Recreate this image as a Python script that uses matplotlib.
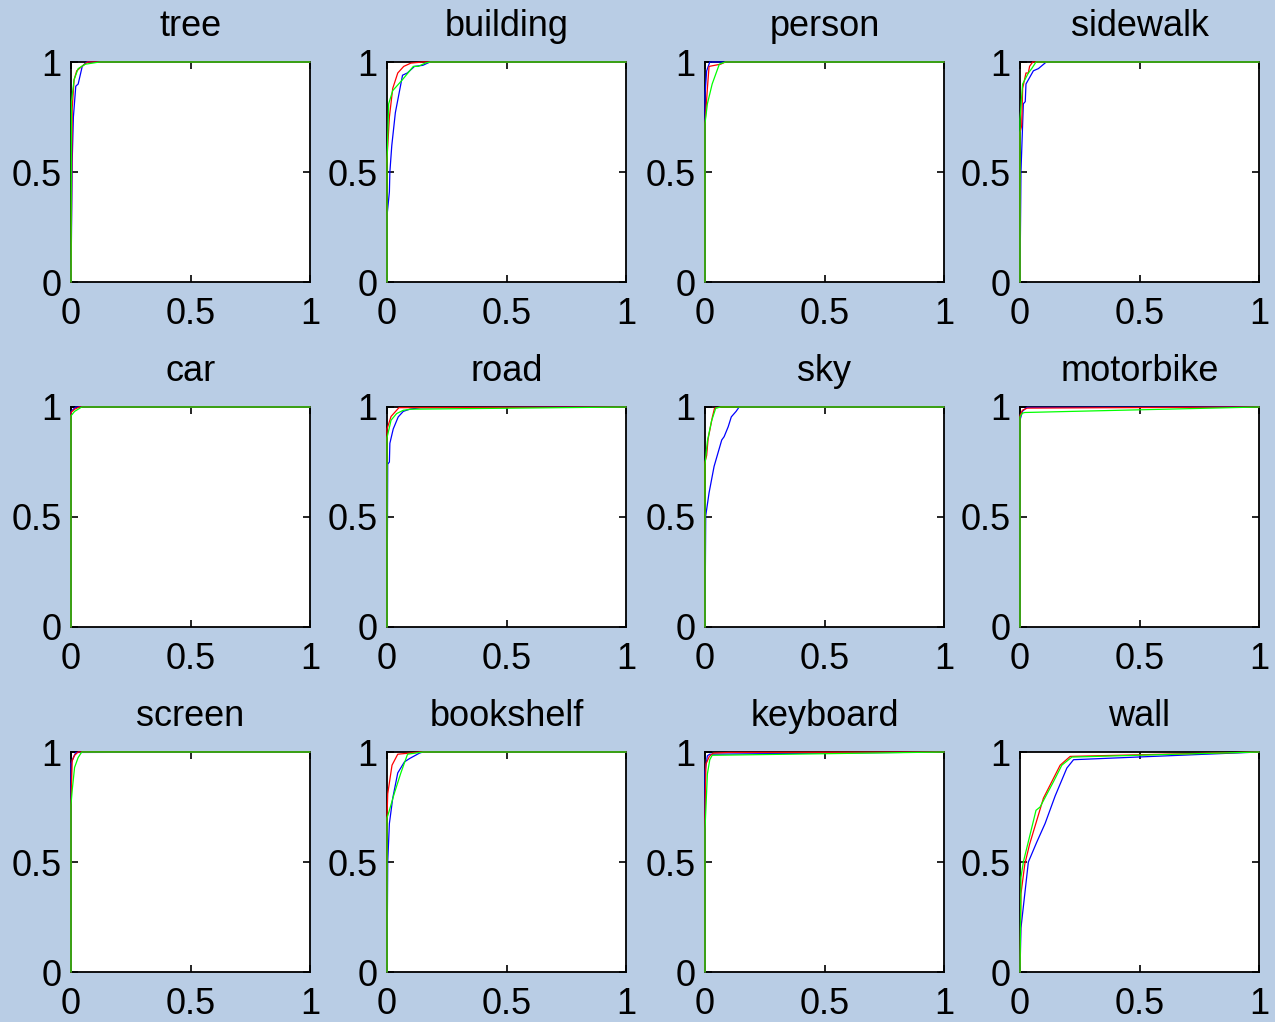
import matplotlib
matplotlib.use("Agg")
import matplotlib.pyplot as plt

plt.rcParams['font.family'] = ['Liberation Sans', 'DejaVu Sans']

# ROC curves per class: (false positive rate, true positive rate) for three methods
titles = ["tree", "building", "person", "sidewalk",
          "car", "road", "sky", "motorbike",
          "screen", "bookshelf", "keyboard", "wall"]

tree_blue = ([0, 0.005, 0.01, 0.02, 0.03, 0.047, 0.065, 1], [0, 0.55, 0.75, 0.89, 0.90, 0.98, 1.0, 1.0])
tree_red = ([0, 0.005, 0.013, 0.024, 0.045, 0.07, 1], [0, 0.79, 0.92, 0.96, 0.98, 1.0, 1.0])
tree_green = ([0, 0.002, 0.013, 0.03, 0.06, 0.12, 1], [0, 0.82, 0.92, 0.97, 0.99, 1.0, 1.0])

building_blue = ([0, 0.0, 0.01, 0.012, 0.02, 0.035, 0.065, 0.085, 0.115, 0.15, 0.18, 1],
                 [0, 0.30, 0.41, 0.50, 0.62, 0.77, 0.94, 0.95, 0.98, 0.985, 1.0, 1.0])
building_red = ([0, 0.0, 0.01, 0.024, 0.045, 0.07, 0.10, 0.15, 1],
                [0, 0.56, 0.75, 0.88, 0.95, 0.98, 0.995, 1.0, 1.0])
building_green = ([0, 0.0, 0.007, 0.024, 0.065, 0.11, 0.13, 0.16, 0.18, 1],
                  [0, 0.55, 0.81, 0.87, 0.92, 0.98, 0.98, 0.995, 1.0, 1.0])

person_blue = ([0, 0.0, 0.007, 0.02, 1], [0, 0.85, 0.96, 1.0, 1.0])
person_red = ([0, 0.0, 0.01, 0.017, 0.065, 0.085, 1], [0, 0.72, 0.88, 0.98, 0.99, 1.0, 1.0])
person_green = ([0, 0.0, 0.01, 0.03, 0.06, 0.085, 1], [0, 0.72, 0.81, 0.90, 0.99, 1.0, 1.0])

sidewalk_blue = ([0, 0.004, 0.014, 0.022, 0.025, 0.056, 0.077, 0.11, 1],
                 [0, 0.50, 0.81, 0.82, 0.90, 0.96, 0.97, 1.0, 1.0])
sidewalk_red = ([0, 0.0, 0.007, 0.011, 0.025, 0.035, 0.04, 0.053, 1],
                [0, 0.68, 0.71, 0.88, 0.95, 0.95, 0.98, 1.0, 1.0])
sidewalk_green = ([0, 0.0, 0.011, 0.035, 0.049, 0.067, 1],
                  [0, 0.74, 0.90, 0.95, 0.97, 1.0, 1.0])

car_blue = ([0, 0.0, 0.01, 0.02, 1], [0, 0.98, 0.99, 1.0, 1.0])
car_red = ([0, 0.0, 0.015, 0.035, 1], [0, 0.975, 0.99, 1.0, 1.0])
car_green = ([0, 0.0, 0.015, 0.045, 1], [0, 0.96, 0.98, 1.0, 1.0])

road_blue = ([0, 0.003, 0.01, 0.012, 0.026, 0.047, 0.068, 0.095, 0.14, 1],
             [0, 0.74, 0.75, 0.835, 0.90, 0.955, 0.98, 0.99, 0.997, 1.0])
road_red = ([0, 0.0, 0.017, 0.05, 1], [0, 0.90, 0.957, 0.997, 1.0])
road_green = ([0, 0.0, 0.017, 0.04, 0.068, 0.10, 1], [0, 0.86, 0.94, 0.97, 0.985, 0.99, 1.0])

sky_blue = ([0, 0.003, 0.017, 0.038, 0.07, 0.08, 0.097, 0.11, 0.13, 0.143, 1],
            [0, 0.505, 0.61, 0.73, 0.85, 0.865, 0.91, 0.955, 0.98, 1.0, 1.0])
sky_red = ([0, 0.0, 0.007, 0.013, 0.031, 0.04, 0.066, 1],
           [0, 0.75, 0.78, 0.855, 0.955, 0.995, 1.0, 1.0])
sky_green = ([0, 0.0, 0.01, 0.027, 0.045, 0.066, 1], [0, 0.74, 0.845, 0.935, 0.995, 1.0, 1.0])

motorbike_blue = ([0, 0.0, 0.01, 0.028, 1], [0, 0.94, 0.98, 0.998, 1.0])
motorbike_red = ([0, 0.0, 0.01, 0.03, 1], [0, 0.96, 0.985, 0.995, 1.0])
motorbike_green = ([0, 0.0, 0.01, 0.02, 1], [0, 0.955, 0.972, 0.975, 1.0])

screen_blue = ([0, 0.0, 0.01, 0.02, 1], [0, 0.947, 0.975, 0.998, 1.0])
screen_red = ([0, 0.0, 0.005, 0.015, 0.03, 1], [0, 0.765, 0.96, 0.985, 1.0, 1.0])
screen_green = ([0, 0.0, 0.005, 0.015, 0.03, 0.045, 1], [0, 0.76, 0.826, 0.93, 0.975, 1.0, 1.0])

bookshelf_blue = ([0, 0.003, 0.01, 0.024, 0.045, 0.073, 0.094, 0.136, 0.15, 1],
                  [0, 0.50, 0.675, 0.79, 0.905, 0.955, 0.97, 0.995, 1.0, 1.0])
bookshelf_red = ([0, 0.0, 0.003, 0.021, 0.045, 0.094, 0.136, 1],
                 [0, 0.70, 0.81, 0.94, 0.99, 0.995, 1.0, 1.0])
bookshelf_green = ([0, 0.0, 0.01, 0.03, 0.058, 0.086, 0.15, 1],
                   [0, 0.70, 0.735, 0.81, 0.905, 0.99, 1.0, 1.0])

keyboard_blue = ([0, 0.0, 0.01, 0.02, 1], [0, 0.91, 0.983, 0.99, 1.0])
keyboard_red = ([0, 0.0, 0.004, 0.018, 0.035, 0.10, 1], [0, 0.70, 0.945, 0.98, 0.995, 0.998, 1.0])
keyboard_green = ([0, 0.0, 0.01, 0.02, 0.03, 1], [0, 0.65, 0.90, 0.965, 0.985, 1.0])

wall_blue = ([0, 0.004, 0.035, 0.07, 0.105, 0.147, 0.196, 0.224, 1],
             [0, 0.20, 0.50, 0.59, 0.675, 0.80, 0.927, 0.965, 1.0])
wall_red = ([0, 0.004, 0.02, 0.04, 0.098, 0.168, 0.21, 1],
            [0, 0.355, 0.49, 0.58, 0.79, 0.94, 0.98, 1.0])
wall_green = ([0, 0.004, 0.014, 0.067, 0.084, 0.14, 0.175, 0.217, 1],
              [0, 0.43, 0.50, 0.735, 0.75, 0.865, 0.94, 0.977, 1.0])

curves = {
    "tree": (tree_blue, tree_red, tree_green),
    "building": (building_blue, building_red, building_green),
    "person": (person_blue, person_red, person_green),
    "sidewalk": (sidewalk_blue, sidewalk_red, sidewalk_green),
    "car": (car_blue, car_red, car_green),
    "road": (road_blue, road_red, road_green),
    "sky": (sky_blue, sky_red, sky_green),
    "motorbike": (motorbike_blue, motorbike_red, motorbike_green),
    "screen": (screen_blue, screen_red, screen_green),
    "bookshelf": (bookshelf_blue, bookshelf_red, bookshelf_green),
    "keyboard": (keyboard_blue, keyboard_red, keyboard_green),
    "wall": (wall_blue, wall_red, wall_green),
}
colors = ["#0000FF", "#FF0000", "#00FF00"]
tick_vals = [0, 0.5, 1]
tick_labels = ["0", "0.5", "1"]

bg = "#B9CDE5"
fig = plt.figure(figsize=(12.75, 10.22), dpi=100, facecolor=bg)

col_left = [71, 387, 705, 1020]
row_top = [62, 407, 752]
W, H = 1275.0, 1022.0
aw, ah = 239, 220

for i, name in enumerate(titles):
    r, c = divmod(i, 4)
    ax = fig.add_axes([col_left[c] / W, 1 - (row_top[r] + ah) / H, aw / W, ah / H])
    ax.set_facecolor("white")
    for (xs, ys), col in zip(curves[name], colors):
        ax.plot(xs, ys, color=col, lw=0.9, clip_on=False, zorder=3)
    ax.set_xlim(0, 1)
    ax.set_ylim(0, 1)
    ax.set_xticks(tick_vals)
    ax.set_yticks(tick_vals)
    ax.set_xticklabels(tick_labels)
    ax.set_yticklabels(tick_labels)
    ax.tick_params(direction="in", length=5, width=1.2, top=True, right=True,
                   labelsize=26, colors="black")
    ax.tick_params(axis="x", pad=11)
    ax.tick_params(axis="y", pad=7)
    for s in ax.spines.values():
        s.set_linewidth(1.3)
        s.set_color("black")
    ax.set_title(name, fontsize=26, pad=19)

fig.savefig("out.png", dpi=100, facecolor=bg)
